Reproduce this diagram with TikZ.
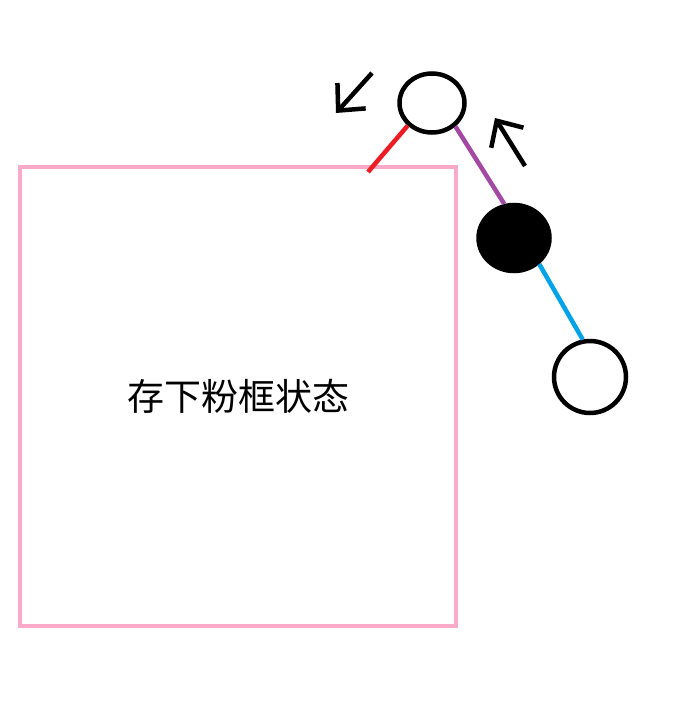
\documentclass[tikz,border=0pt]{standalone}
\usepackage{fontspec}
\newfontfamily\cjk{Noto Sans CJK SC}
\usetikzlibrary{arrows.meta,shapes.geometric}
\definecolor{mypink}{RGB}{250,170,200}
\definecolor{myred}{RGB}{237,28,36}
\definecolor{mypurple}{RGB}{163,73,164}
\definecolor{myblue}{RGB}{0,162,232}

\begin{document}
\begin{tikzpicture}[x=1pt,y=-1pt,line width=4.5pt,
  ball/.style={draw,ellipse,inner sep=0pt},
  turn/.style={-{Straight Barb[length=20pt,width=38pt]}}]
  \useasboundingbox (0,0) rectangle (677,717);

  % Pink box
  \draw[mypink,line width=4pt] (20,167) rectangle (456,626);
  \node[font=\cjk\fontsize{37}{37}\selectfont] (state) at (238,396) {存下粉框状态};

  % Balls
  \node[ball,minimum width=65pt,minimum height=59pt] (top) at (432,103) {};
  \node[ball,fill=black,minimum width=71pt,minimum height=66pt] (black) at (514,238) {};
  \node[ball,minimum width=72pt,minimum height=72pt] (bottom) at (590,377) {};

  % Sticks
  \coordinate (cut) at (368,172);
  \draw[myred] (top.-137) -- (cut);
  \draw[mypurple] (top.-45) -- (black.106);
  \draw[myblue] (black.-46) -- (bottom.101);

  % Turning arrows
  \coordinate (leftfrom) at (372,73);
  \coordinate (leftto) at (336,113);
  \coordinate (rightfrom) at (525,166);
  \coordinate (rightto) at (495,118);
  \draw[turn] (leftfrom) -- (leftto);
  \draw[turn] (rightfrom) -- (rightto);
\end{tikzpicture}
\end{document}
